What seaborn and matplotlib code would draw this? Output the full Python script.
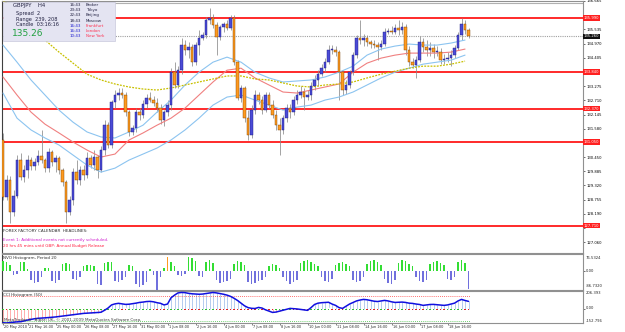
import numpy as np
import pandas as pd
import matplotlib
matplotlib.use("Agg")
import matplotlib.pyplot as plt
from matplotlib.patches import Rectangle
import seaborn as sns

sns.set_style("white")
plt.rcParams['font.family'] = ['DejaVu Sans']

# ---------------- data ----------------
opens = [131.13, 128.86, 129.54, 128.26, 128.90, 130.33, 129.66, 129.93, 130.33, 130.09,
         130.25, 130.49, 130.33, 130.01, 130.65, 130.25, 130.41, 129.93, 129.46, 128.26,
         128.74, 129.85, 129.54, 129.93, 129.73, 130.41, 130.13, 130.45, 129.93, 130.73,
         131.72, 130.93, 132.64, 132.92, 133.00, 132.92, 132.24, 131.45, 131.61, 132.24,
         132.12, 132.56, 132.80, 132.72, 132.60, 132.40, 131.92, 132.24, 132.52, 133.83,
         133.32, 133.91, 134.91, 134.71, 134.83, 134.23, 134.91, 135.19, 135.31, 135.90,
         135.98, 135.70, 135.23, 135.63, 135.74, 135.59, 135.98, 134.23, 132.80, 133.20,
         132.00, 131.33, 132.32, 132.92, 132.72, 132.32, 132.92, 132.52, 132.12, 131.72,
         131.53, 132.00, 132.40, 132.24, 132.72, 132.92, 133.04, 132.84, 132.92, 133.28,
         133.52, 133.75, 133.99, 134.23, 134.71, 134.71, 134.63, 133.83, 133.12, 133.32,
         133.83, 134.51, 135.19, 135.11, 135.19, 135.03, 134.95, 134.91, 134.83, 134.95,
         135.43, 135.47, 135.43, 135.59, 135.51, 135.63, 134.71, 134.23, 134.11, 134.31,
         135.03, 134.83, 134.71, 134.79, 134.63, 134.63, 134.31, 134.35, 134.39, 134.51,
         134.79, 135.31, 135.74, 135.51]
highs = [131.41, 129.73, 129.70, 129.14, 130.53, 130.61, 130.13, 130.53, 130.45, 130.41,
         130.73, 131.53, 130.41, 130.81, 130.73, 130.53, 130.49, 130.01, 129.54, 128.90,
         130.01, 130.33, 130.09, 130.13, 130.65, 130.53, 130.73, 130.53, 130.89, 131.92,
         131.84, 132.72, 133.12, 133.20, 133.20, 133.04, 132.32, 131.72, 132.40, 132.40,
         132.72, 132.96, 133.04, 132.88, 132.80, 132.56, 132.32, 132.72, 133.99, 134.23,
         134.07, 135.19, 135.11, 135.03, 134.95, 135.03, 135.51, 135.43, 136.02, 136.38,
         136.14, 135.82, 135.70, 135.82, 135.90, 136.10, 136.10, 134.31, 133.32, 133.28,
         132.32, 132.52, 133.12, 133.04, 132.88, 133.04, 133.04, 132.72, 132.32, 132.00,
         132.12, 132.56, 132.56, 132.88, 133.12, 133.28, 133.20, 133.12, 133.44, 133.72,
         133.91, 134.15, 134.39, 134.91, 134.91, 134.87, 134.71, 133.91, 133.52, 133.91,
         134.63, 135.31, 135.90, 135.35, 135.31, 135.11, 135.11, 135.03, 135.11, 135.59,
         135.59, 135.67, 135.74, 135.90, 135.82, 135.74, 134.87, 134.39, 134.47, 135.27,
         135.19, 135.11, 135.03, 134.95, 134.87, 134.79, 134.55, 134.63, 134.71, 134.91,
         135.43, 135.98, 135.90, 135.59]
lows = [128.74, 128.74, 127.82, 128.10, 128.82, 129.54, 129.46, 129.62, 129.93, 129.93,
        130.13, 130.21, 129.85, 129.85, 130.09, 129.85, 129.77, 129.30, 127.82, 128.14,
        128.54, 129.38, 129.34, 129.54, 129.62, 130.01, 129.93, 129.62, 129.85, 130.53,
        130.81, 130.81, 132.40, 132.72, 132.80, 132.08, 131.29, 131.33, 131.45, 131.92,
        132.00, 132.40, 132.64, 132.48, 132.24, 131.76, 131.69, 132.08, 132.32, 133.20,
        133.20, 133.75, 134.51, 134.39, 134.07, 134.11, 134.51, 135.11, 135.19, 135.74,
        135.59, 134.51, 135.11, 135.43, 135.51, 135.51, 134.11, 132.72, 132.64, 131.84,
        131.13, 131.21, 132.16, 132.56, 132.16, 132.24, 132.40, 132.00, 131.53, 130.53,
        131.37, 131.84, 132.00, 132.12, 132.56, 132.80, 132.32, 132.72, 132.72, 133.12,
        133.28, 133.67, 133.83, 134.15, 134.55, 134.47, 132.72, 132.92, 132.96, 133.20,
        133.71, 134.39, 134.95, 134.87, 134.87, 134.79, 134.79, 134.31, 134.71, 134.87,
        135.35, 135.35, 135.35, 135.31, 135.35, 134.51, 134.07, 133.99, 133.60, 134.23,
        134.63, 134.47, 134.47, 134.39, 134.47, 134.15, 134.15, 134.23, 134.07, 134.39,
        134.71, 135.11, 135.35, 135.19]
closes = [128.86, 129.54, 128.26, 128.90, 130.33, 129.66, 129.93, 130.33, 130.09, 130.25,
          130.49, 130.33, 130.01, 130.65, 130.25, 130.41, 129.93, 129.46, 128.26, 128.74,
          129.85, 129.54, 129.93, 129.73, 130.41, 130.13, 130.45, 129.93, 130.73, 131.72,
          130.93, 132.64, 132.92, 133.00, 132.92, 132.24, 131.45, 131.61, 132.24, 132.12,
          132.56, 132.80, 132.72, 132.60, 132.40, 131.92, 132.24, 132.52, 133.83, 133.32,
          133.91, 134.91, 134.71, 134.83, 134.23, 134.91, 135.19, 135.31, 135.90, 135.98,
          135.70, 135.23, 135.63, 135.74, 135.59, 135.98, 134.23, 132.80, 133.20, 132.00,
          131.33, 132.32, 132.92, 132.72, 132.32, 132.92, 132.52, 132.12, 131.72, 131.53,
          132.00, 132.40, 132.24, 132.72, 132.92, 133.04, 132.84, 132.92, 133.28, 133.52,
          133.75, 133.99, 134.23, 134.71, 134.71, 134.63, 133.83, 133.12, 133.32, 133.83,
          134.51, 135.19, 135.11, 135.19, 135.03, 134.95, 134.91, 134.83, 134.95, 135.43,
          135.47, 135.43, 135.59, 135.51, 135.63, 134.71, 134.23, 134.11, 134.31, 135.03,
          134.83, 134.71, 134.79, 134.63, 134.63, 134.31, 134.35, 134.39, 134.51, 134.79,
          135.31, 135.74, 135.51, 135.27]

# indicator lines sampled every 4 bars
ma_step = 4
ma_upper = [134.91, 134.23, 133.52, 132.92, 132.32, 131.84, 131.45, 131.25, 131.21, 131.45,
            131.72, 132.24, 132.72, 133.32, 133.83, 134.23, 134.43, 134.23, 133.83, 133.60,
            133.44, 133.48, 133.52, 133.64, 133.83, 134.07, 134.51, 134.75, 134.87, 134.95,
            134.91, 134.91, 134.99, 135.11]
ma_mid = [133.64, 132.92, 132.24, 131.76, 131.41, 131.05, 130.73, 130.45, 130.57, 131.13,
          131.41, 131.72, 132.00, 132.40, 132.92, 133.44, 133.91, 133.99, 133.60, 133.32,
          133.04, 133.00, 133.12, 133.24, 133.36, 133.83, 134.19, 134.39, 134.51, 134.59,
          134.59, 134.59, 134.63, 134.75]
ma_lower = [133.00, 132.00, 131.53, 131.21, 130.93, 130.53, 130.13, 129.85, 130.01, 130.33,
            130.57, 130.81, 131.13, 131.53, 132.00, 132.52, 132.84, 132.92, 132.72, 132.52,
            132.32, 132.44, 132.52, 132.72, 132.84, 133.04, 133.32, 133.60, 133.83, 133.99,
            134.15, 134.23, 134.31, 134.51]
ma_slow = [136.70, 136.22, 135.70, 135.11, 134.63, 134.19, 133.75, 133.52, 133.36, 133.24,
           133.16, 133.12, 133.20, 133.32, 133.44, 133.56, 133.68, 133.68, 133.56, 133.52,
           133.40, 133.28, 133.24, 133.32, 133.36, 133.44, 133.60, 133.75, 133.87, 133.99,
           134.07, 134.07, 134.15, 134.27]

levels = [135.99, 133.84, 132.37, 131.05, 127.71]
bid = 135.26

price_ticks = [136.665, 136.100, 135.535, 134.970, 134.405, 133.840, 133.275, 132.710,
               132.145, 131.580, 131.015, 130.450, 129.885, 129.320, 128.755, 128.190,
               127.625, 127.060]

nvo = [45, 42, 25, -18, -15, 38, 40, 10, -40, -55, -50, -30, 14, 12, -45, -55, -40,
       30, 36, 33, -35, -40, -30, 20, 27, 25, 22, -60, -63, 35, 40, 38, -45, -50, -40, -30,
       27, 22, -60, -72, -65, -50, 10, -20, -86, -30, 15, 63, 40, 20, -20, -23, -15,
       63, 60, 45, -25, -30, 40, 50, 35, -40, -55, -50, -45, -35, 30, 45, 40, 25,
       -50, -60, -55, -45, -40, -30, 20, 30, 25, 15, -30, -45, -60, -50, -40,
       35, 45, 50, 40, 30, 20, -30, -45, -50, -35, 25, 35, 40, 30, 20,
       -40, -50, -45, -30, 30, 45, 50, 40, 25, -35, -55, -60, -40,
       35, 50, 45, 30, 20, -30, -45, -50, -40, 30, 40, 45, 35, 25, -35, -40, -30,
       40, 50, 35, -80]
nvo_orange = [47]
nvo_range = (-86.732, 76.532)
nvo_tick_text = ["76.5324", "0.00", "-86.7320"]

cci = [-150, -152, -148, -145, -140, -138, -130, -120, -112, -105,
       -100, -98, -95, -92, -88, -85, -80, -75, -70, -66, -60, -55, -50, -45,
       -42, -40, -38, -35, -32, -10, 15, 50, 62, 68, 62, 56, 58, 64, 70,
       78, 82, 88, 90, 85, 75, 68, 50, 60, 130, 160, 185, 190, 188,
       180, 175, 172, 170, 172, 178, 185, 190, 185, 178, 170, 160, 146, 125, 100,
       70, 40, 20, 12, 10, 22, 15, -5, -20, -34, -30, -20, -10, 0, 11,
       8, 5, 0, -5, -11, 20, 55, 70, 75, 78, 80, 60, 45, 20, 11,
       35, 60, 78, 95, 105, 112, 108, 100, 92, 88, 95, 101, 95, 85, 78,
       80, 82, 78, 70, 67, 60, 55, 45, 50, 55, 56, 52, 48, 45, 50,
       60, 70, 95, 112, 100, 90]
cci_yellow = [35, 93]
cci_range = (-152.796, 206.393)
cci_tick_text = ["206.393", "0.00", "-152.796"]

time_labels = ["20 May 2010", "21 May 16:00", "25 May 00:00", "26 May 08:00", "27 May 16:00",
               "31 May 00:00", "1 Jun 08:00", "2 Jun 16:00", "4 Jun 00:00", "7 Jun 08:00",
               "8 Jun 16:00", "10 Jun 00:00", "11 Jun 08:00", "14 Jun 16:00", "16 Jun 00:00",
               "17 Jun 08:00", "18 Jun 16:00"]

clock_times = ["16:43", "23:43", "22:43", "18:43", "16:43", "16:43", "10:43"]
clock_names = ["Broker", "Tokyo", "Beijing", "Moscow", "Frankfurt", "London", "New York"]

n = len(closes)
assert len(opens) == n and len(highs) == n and len(lows) == n
assert len(nvo) == n and len(cci) == n

df = pd.DataFrame({"bar": np.arange(n), "open": opens, "high": highs,
                   "low": lows, "close": closes, "nvo": nvo, "cci": cci})
ma = pd.DataFrame({"bar": np.arange(0, n, ma_step), "upper": ma_upper, "mid": ma_mid,
                   "lower": ma_lower, "slow": ma_slow})

# ---------------- layout ----------------
W, H = 625, 332
fig = plt.figure(figsize=(W / 100, H / 100), dpi=100)
fig.patch.set_facecolor("white")


def px_axes(x0, y0, x1, y1):
    return fig.add_axes([x0 / W, 1 - y1 / H, (x1 - x0) / W, (y1 - y0) / H])


ax = px_axes(2, 1, 583, 253)
axn = px_axes(2, 254, 583, 290)
axc = px_axes(2, 291, 583, 323)
XL = (-0.29, 165.7)
small = 2.7
grey = "#8a8a8a"

for a in (ax, axn, axc):
    a.set_xlim(*XL)
    a.set_facecolor("white")
    for s in a.spines.values():
        s.set_color("#909090")
        s.set_linewidth(0.8)
    a.spines["left"].set_color("#404040")
    a.yaxis.tick_right()
    a.tick_params(axis="y", labelsize=small, length=1.5, pad=1, width=0.4, colors="black")
    a.tick_params(axis="x", bottom=False, labelbottom=False)

# ---------------- main chart ----------------
ax.set_ylim(126.63, 136.66)
ax.set_yticks(price_ticks)
marked = levels + [bid]
ax.set_yticklabels(["" if min(abs(v - m) for m in marked) < 0.2 else f"{v:.3f}"
                    for v in price_ticks])

for lv in levels:
    ax.axhline(lv, color="#ff2a2a", lw=1.4, zorder=2)
ax.axhline(bid, color="#a0a0a0", lw=0.8, ls=(0, (1, 1)), zorder=2)
ax.axhline(136.60, color="#b0b0b0", lw=0.8, zorder=2)

bull = df["close"] >= df["open"]
ax.vlines(df["bar"], df["low"], df["high"], color=grey, lw=0.55, zorder=3)
body = (df["close"] - df["open"]).abs().clip(lower=0.03)
bottom = df[["open", "close"]].min(axis=1)
ax.bar(df["bar"][bull], body[bull], bottom=bottom[bull], width=0.6,
       color="#4b4bd6", edgecolor="#1a1a80", lw=0.3, zorder=4)
ax.bar(df["bar"][~bull], body[~bull], bottom=bottom[~bull], width=0.6,
       color="#ff9a1f", edgecolor="#7a4000", lw=0.3, zorder=4)

sns.lineplot(data=ma, x="bar", y="upper", ax=ax, color="#8cc4f0", lw=0.8, zorder=3)
sns.lineplot(data=ma, x="bar", y="lower", ax=ax, color="#8cc4f0", lw=0.8, zorder=3)
sns.lineplot(data=ma, x="bar", y="mid", ax=ax, color="#f08080", lw=0.8, zorder=3)
sns.lineplot(data=ma, x="bar", y="slow", ax=ax, color="#c8c000", lw=0.9,
             ls=(0, (1.5, 1)), zorder=3)
ax.set_xlabel("")
ax.set_ylabel("")

yt = ax.get_yaxis_transform()
for lv in levels:
    ax.text(1.001, lv, f"{lv:.3f}", transform=yt, fontsize=small, color="white",
            va="center", ha="left", clip_on=False, zorder=10,
            bbox=dict(boxstyle="square,pad=0.15", fc="#ff2020", ec="none"))
ax.text(1.001, bid, f"{bid:.3f}", transform=yt, fontsize=small, color="white",
        va="center", ha="left", clip_on=False, zorder=10,
        bbox=dict(boxstyle="square,pad=0.15", fc="#101010", ec="none"))

# ---------------- NVO histogram ----------------
axn.set_ylim(*nvo_range)
axn.set_yticks([0])
axn.set_yticklabels([""])
for frac, txt in zip([0.89, 0.53, 0.11], nvo_tick_text):
    axn.text(1.004, frac, txt, transform=axn.transAxes, fontsize=small,
             va="center", ha="left")
ncol = ["#33dd33" if v > 0 else "#7070dd" for v in nvo]
for k in nvo_orange:
    ncol[k] = "#ff9a1f"
axn.bar(df["bar"], df["nvo"], width=0.45, color=ncol, lw=0, zorder=3)

# ---------------- CCI histogram ----------------
axc.set_ylim(*cci_range)
axc.set_yticks([0])
axc.set_yticklabels([""])
for frac, txt in zip([0.93, 0.46, 0.05], cci_tick_text):
    axc.text(1.004, frac, txt, transform=axc.transAxes, fontsize=small,
             va="center", ha="left")
ccol = ["#ffa0a0" if v < 0 else "#a8c4ec" for v in cci]
axc.vlines(df["bar"], 0, df["cci"], colors=ccol, lw=0.6, zorder=2)
for k in cci_yellow:
    axc.bar(k, 18, bottom=0, width=1.6, color="#f0f000", zorder=3)
axc.hlines([150], -0.3, n - 0.5, colors="#ff4040", lw=0.6, ls=(0, (1, 1.5)), zorder=2)
axc.hlines([-135], -0.3, n - 0.5, colors="#40c040", lw=0.6, ls=(0, (1, 1.5)), zorder=2)
mark_col = ["#e02020" if (i > 0 and cci[i] < cci[i - 1]) else "#30c030" for i in range(n)]
axc.scatter(df["bar"], np.zeros(n), s=1.2, marker="s", c=mark_col, lw=0, zorder=4)
sns.lineplot(data=df, x="bar", y="cci", ax=axc, color="#1010e0", lw=1.1, zorder=5)
axc.set_xlabel("")
axc.set_ylabel("")

# time axis
tick_bars = [0] + [7 + 8 * k for k in range(len(time_labels) - 1)]
axc.set_xticks(tick_bars)
axc.tick_params(axis="x", bottom=True, length=1.5, width=0.4, labelbottom=False)
xt = axc.get_xaxis_transform()
for b, lab in zip(tick_bars, time_labels):
    axc.text(b + 0.3, -0.13, lab, transform=xt, fontsize=2.5, ha="left", va="center",
             clip_on=False)

# ---------------- overlay texts (pixel coords) ----------------
ov = fig.add_axes([0, 0, 1, 1], zorder=20)
ov.set_xlim(0, W)
ov.set_ylim(H, 0)
ov.axis("off")
ov.patch.set_alpha(0)

ov.add_patch(Rectangle((3, 2), 112, 39, fc="#e4e4f2", ec="#c8c8dc", lw=0.5))
ov.text(13, 6, "GBPJPY    H4", fontsize=3.8, color="#202040", va="center")
ov.text(16, 13, "Spread  2", fontsize=3.6, color="#202040", va="center")
ov.text(16, 19, "Range  239, 208", fontsize=3.6, color="#202040", va="center")
ov.text(16, 25, "Candle  03:16:16", fontsize=3.6, color="#202040", va="center")
ov.text(12, 34, "135.26", fontsize=6.5, color="#20a040", va="center")
for k, (t, nm) in enumerate(zip(clock_times, clock_names)):
    yy = 5 + k * 5.2
    tc = "#202040" if k < 4 else "#2020d0"
    nc = "#202040" if k < 4 else "#ff3050"
    ov.text(70, yy, t, fontsize=2.9, color=tc, va="center")
    ov.text(86, yy, nm, fontsize=2.9, color=nc, va="center")

ov.text(3, 231, "FOREX FACTORY CALENDAR  HEADLINES:", fontsize=3.0, color="#303030", va="center")
ov.text(3, 240, "Event 1: Additional events not currently scheduled.", fontsize=3.0,
        color="#d020d0", va="center")
ov.text(3, 246.5, "20 hrs 45 mins until GBP: Annual Budget Release", fontsize=3.0,
        color="#ff2040", va="center")
ov.text(3, 258, "NVO Histogram, Period 20", fontsize=3.0, color="#303030", va="center")
ov.text(3, 295, "CCI Histogram (50)", fontsize=3.0, color="#303030", va="center")
ov.text(4, 320.5, "MetaTrader 4   Alpari UK, \u00a9 2001-2009 MetaQuotes Software Corp.",
        fontsize=3.0, color="#404040", va="center")

fig.savefig("out.png", dpi=100, facecolor="white")
